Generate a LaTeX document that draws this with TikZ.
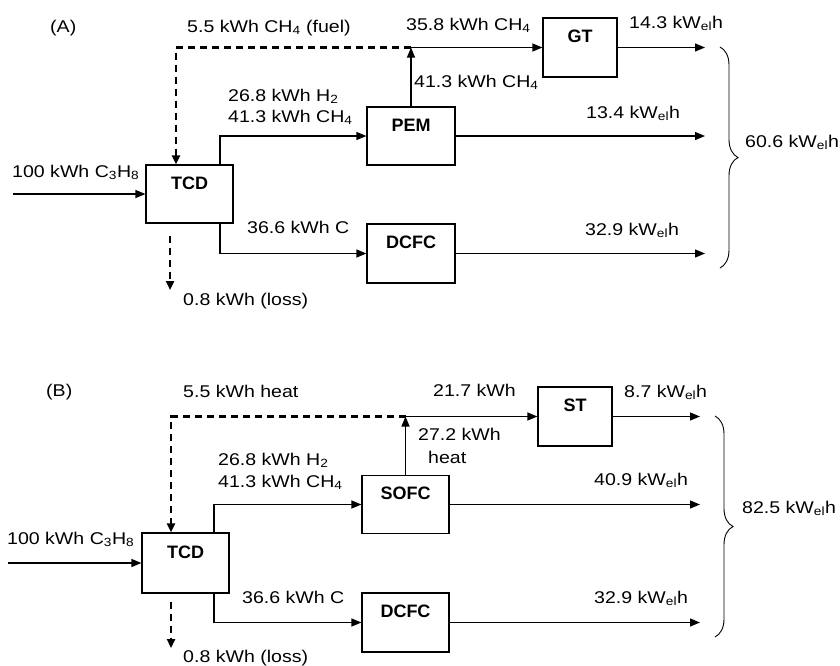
\documentclass[tikz,border=0pt]{standalone}
\usepackage{fontspec}
\setmainfont[FakeStretch=1.15]{Liberation Sans}
\newfontfamily\boxfont{Liberation Sans}
\usetikzlibrary{arrows.meta,decorations.pathreplacing}
\newcommand{\sbs}[1]{\textsubscript{#1}}
\newcommand{\kwel}{kW\textsubscript{el}h}
\begin{document}
\begin{tikzpicture}[x=1pt,y=-1pt,
  font=\fontsize{17}{20}\selectfont,
  box/.style={draw, line width=1.2pt, inner sep=0pt, minimum width=87pt,
    text height=24pt, text depth=34pt,
    font=\boxfont\bfseries\fontsize{18}{20}\selectfont},
  txt/.style={anchor=base west, inner sep=0pt},
  arr/.style={line width=1.2pt, -{Triangle[length=10pt,width=8pt]}},
  dsh/.style={line width=2.6pt, dash pattern=on 7pt off 5pt, -{Triangle[length=9pt,width=8pt]}},
  brc/.style={line width=0.9pt, decorate, decoration={brace, amplitude=18pt}}]
\useasboundingbox (0,0) rectangle (840,665);

% ---------------- Panel A ----------------
\node[box, minimum height=58pt] (tcdA) at (189.5,194) {TCD};
\node[box, minimum width=88pt, minimum height=58pt] (pemA) at (411,136) {PEM};
\node[box, minimum width=88pt, minimum height=59pt] (dcfcA) at (411,253.5) {DCFC};
\node[box, minimum width=74pt, minimum height=59pt] (gtA) at (580,47.5) {GT};

\coordinate (inA) at (13,194);
\coordinate (jA) at (pemA.north |- gtA.west);
\coordinate (oA1) at (705,47.5);
\coordinate (oA2) at (705,136);
\coordinate (oA3) at (705,253.5);
\coordinate (lossA) at (170,290);
\coordinate (bA1) at (720,47);
\coordinate (bA2) at (720,268);

\draw[arr] (inA) -- (tcdA.west);
\draw[arr] ([xshift=30.5pt]tcdA.north) |- (pemA.west);
\draw[arr] ([xshift=30.5pt]tcdA.south) |- (dcfcA.west);
\draw[arr] (pemA.north) -- (jA);
\draw[arr] (jA) -- (gtA.west);
\draw[dsh] (jA) -| ([xshift=-13.5pt]tcdA.north);
\draw[dsh] ([xshift=-19.5pt,yshift=-12pt]tcdA.south) -- (lossA);
\draw[arr] (gtA.east) -- (oA1);
\draw[arr] (pemA.east) -- (oA2);
\draw[arr] (dcfcA.east) -- (oA3);
\draw[brc] (bA1) -- (bA2);

\node[txt] (tA0) at (50,32) {(A)};
\node[txt] (tA1) at (187,32) {5.5 kWh CH\sbs{4} (fuel)};
\node[txt] (tA2) at (406,30) {35.8 kWh CH\sbs{4}};
\node[txt] (tA3) at (629,28) {14.3 \kwel};
\node[txt] (tA4) at (414,87) {41.3 kWh CH\sbs{4}};
\node[txt] (tA5) at (228,101) {26.8 kWh H\sbs{2}};
\node[txt] (tA6) at (228,122) {41.3 kWh CH\sbs{4}};
\node[txt] (tA7) at (12,177) {100 kWh C\sbs{3}H\sbs{8}};
\node[txt] (tA8) at (586,118) {13.4 \kwel};
\node[txt] (tA9) at (247,233) {36.6 kWh C};
\node[txt] (tA10) at (585,235) {32.9 \kwel};
\node[txt] (tA11) at (183,305) {0.8 kWh (loss)};
\node[txt] (tA12) at (745,147) {60.6 \kwel};

% ---------------- Panel B ----------------
\node[box, minimum height=60pt] (tcdB) at (185.5,563) {TCD};
\node[box, minimum height=57pt] (sofcB) at (405.5,504.5) {SOFC};
\node[box, minimum height=59pt] (dcfcB) at (405.5,622.5) {DCFC};
\node[box, minimum width=74pt, minimum height=59pt] (stB) at (575,416.5) {ST};

\coordinate (inB) at (8,563);
\coordinate (jB) at (sofcB.north |- stB.west);
\coordinate (oB1) at (700,416.5);
\coordinate (oB2) at (700,504.5);
\coordinate (oB3) at (700,622.5);
\coordinate (lossB) at (171,648);
\coordinate (bB1) at (715,416);
\coordinate (bB2) at (715,637);

\draw[arr] (inB) -- (tcdB.west);
\draw[arr] ([xshift=28.5pt]tcdB.north) |- (sofcB.west);
\draw[arr] ([xshift=28.5pt]tcdB.south) |- (dcfcB.west);
\draw[arr] (sofcB.north) -- (jB);
\draw[arr] (jB) -- (stB.west);
\draw[dsh] (jB) -| ([xshift=-14.5pt]tcdB.north);
\draw[dsh] ([xshift=-14.5pt,yshift=-8pt]tcdB.south) -- (lossB);
\draw[arr] (stB.east) -- (oB1);
\draw[arr] (sofcB.east) -- (oB2);
\draw[arr] (dcfcB.east) -- (oB3);
\draw[brc] (bB1) -- (bB2);

\node[txt] (tB0) at (46,396) {(B)};
\node[txt] (tB1) at (183,397) {5.5 kWh heat};
\node[txt] (tB2) at (433,396) {21.7 kWh};
\node[txt] (tB3) at (624,397) {8.7 \kwel};
\node[txt] (tB4) at (418,440) {27.2 kWh};
\node[txt] (tB5) at (428,463) {heat};
\node[txt] (tB6) at (218,465) {26.8 kWh H\sbs{2}};
\node[txt] (tB7) at (218,487) {41.3 kWh CH\sbs{4}};
\node[txt] (tB8) at (7,544) {100 kWh C\sbs{3}H\sbs{8}};
\node[txt] (tB9) at (594,485) {40.9 \kwel};
\node[txt] (tB10) at (242,603) {36.6 kWh C};
\node[txt] (tB11) at (594,603) {32.9 \kwel};
\node[txt] (tB12) at (183,662) {0.8 kWh (loss)};
\node[txt] (tB13) at (742,513) {82.5 \kwel};
\end{tikzpicture}
\end{document}
